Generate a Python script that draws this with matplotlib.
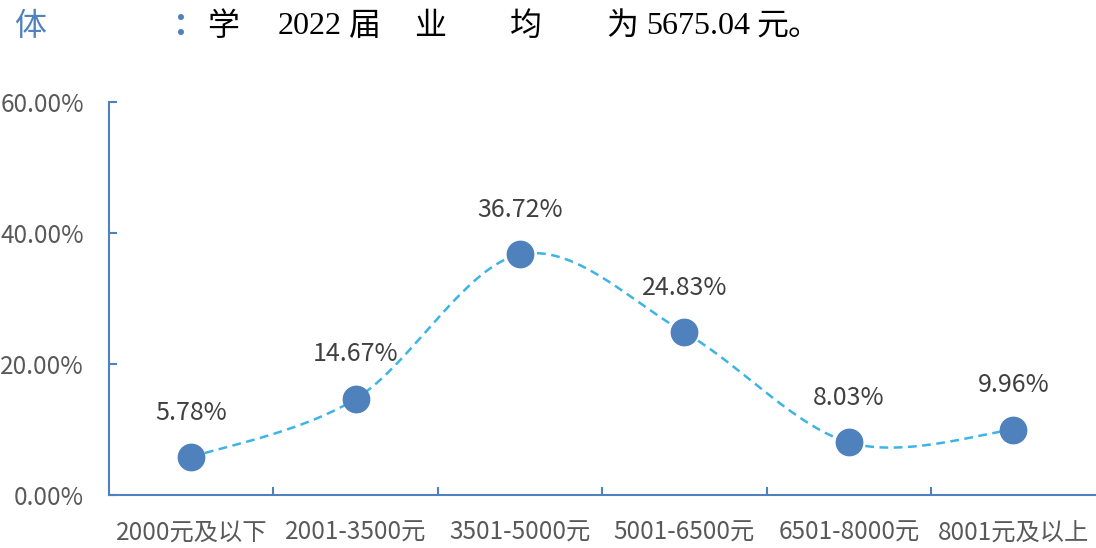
import numpy as np
import matplotlib
matplotlib.use("Agg")
import matplotlib.pyplot as plt
from matplotlib.ticker import FixedLocator, FuncFormatter

plt.rcParams["font.family"] = ["Noto Sans CJK SC", "DejaVu Sans"]

# 数据
categories = ["2000元及以下", "2001-3500元", "3501-5000元",
              "5001-6500元", "6501-8000元", "8001元及以上"]
shares = [5.78, 14.67, 36.72, 24.83, 8.03, 9.96]
y_ticks = [0, 20, 40, 60]

BLUE = "#4f81bd"
LINE = "#3cb4e6"
GREY = "#595959"


def smooth_curve(x, y, n=40):
    """Excel 风格平滑线 (Catmull-Rom -> Bezier)"""
    x = np.asarray(x, float)
    y = np.asarray(y, float)
    px = np.concatenate([[x[0]], x, [x[-1]]])
    py = np.concatenate([[y[0]], y, [y[-1]]])
    xs, ys = [], []
    t = np.linspace(0, 1, n)
    for i in range(len(x) - 1):
        p0 = np.array([px[i + 1], py[i + 1]])
        p3 = np.array([px[i + 2], py[i + 2]])
        c1 = p0 + (np.array([px[i + 2], py[i + 2]]) - np.array([px[i], py[i]])) / 6
        c2 = p3 - (np.array([px[i + 3], py[i + 3]]) - np.array([px[i + 1], py[i + 1]])) / 6
        b = ((1 - t) ** 3)[:, None] * p0 + (3 * (1 - t) ** 2 * t)[:, None] * c1 \
            + (3 * (1 - t) * t ** 2)[:, None] * c2 + (t ** 3)[:, None] * p3
        xs.append(b[:, 0])
        ys.append(b[:, 1])
    return np.concatenate(xs), np.concatenate(ys)


fig = plt.figure(figsize=(10.96, 5.48), dpi=100)
ax = fig.add_axes([0.0995, 0.0967, 0.9, 0.7172])

x = np.arange(len(categories))
sx, sy = smooth_curve(x, shares)
ax.plot(sx, sy, color=LINE, lw=1.8, ls=(0, (3.5, 2.2)), zorder=2)
ax.plot(x, shares, ls="none", marker="o", ms=19, color=BLUE, zorder=3)

for xi, v in zip(x, shares):
    ax.annotate(f"{v:.2f}%", (xi, v), xytext=(0, 32), textcoords="offset points",
                ha="center", va="center", fontsize=18, color="#404040")

ax.set_xlim(-0.5, len(categories) - 0.5)
ax.set_ylim(0, 60)

for s in ["top", "right"]:
    ax.spines[s].set_visible(False)
for s in ["left", "bottom"]:
    ax.spines[s].set_color(BLUE)
    ax.spines[s].set_linewidth(1.5)

ax.set_xticks(x)
ax.set_xticklabels(categories)
ax.xaxis.set_minor_locator(FixedLocator(x[:-1] + 0.5))
ax.tick_params(axis="x", which="major", length=0, pad=18, labelsize=17.5, labelcolor=GREY)
ax.tick_params(axis="x", which="minor", direction="in", length=6, width=1.5, color=BLUE)

ax.set_yticks(y_ticks)
ax.yaxis.set_major_formatter(FuncFormatter(lambda v, p: f"{v:.2f}%"))
ax.tick_params(axis="y", direction="in", length=6, width=1.5, color=BLUE,
               pad=18, labelsize=17.5, labelcolor=GREY)

# 标题 (原图文字排版残缺, 按位置逐段放置)
title_y = 1 - 27 / 548
serif = ["Liberation Serif", "Noto Sans CJK SC"]
fig.text(14 / 1096, title_y, "体", color=BLUE, fontsize=23, va="center", family=serif)
fig.text(172 / 1096, title_y, "：", color=BLUE, fontsize=23, va="center",
         family=serif, fontweight="bold")
parts = [(207, "学"), (278, "2022"), (349, "届"), (414, "业"), (510, "均"),
         (606, "为"), (646, "5675.04"), (756, "元。")]
for px, s in parts:
    fig.text(px / 1096, title_y, s, color="black", fontsize=23, va="center", family=serif)

fig.savefig("out.png", dpi=100)
